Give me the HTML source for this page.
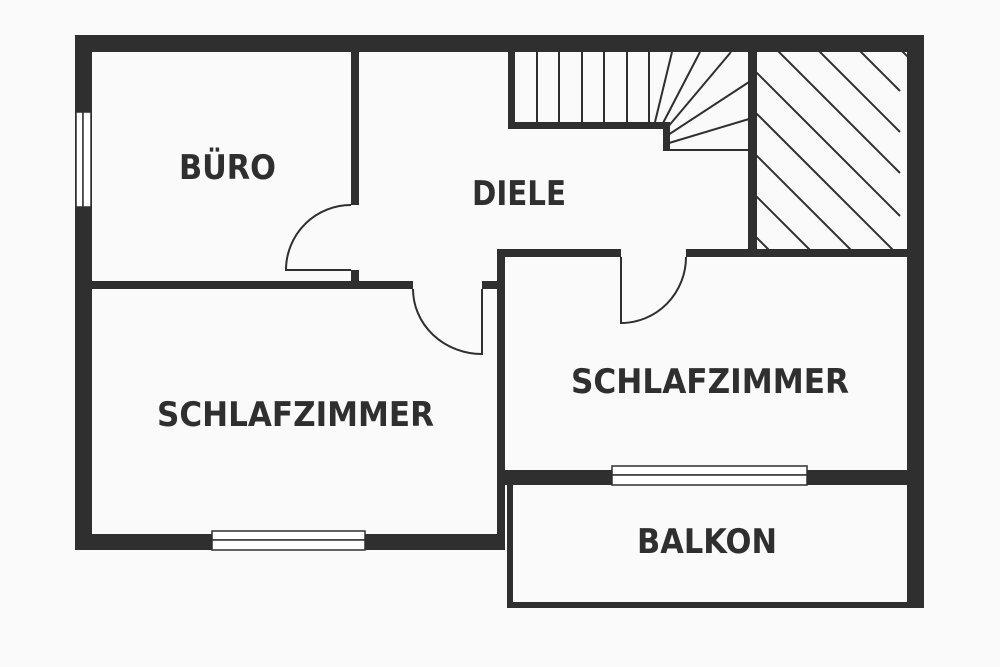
<!DOCTYPE html>
<html><head><meta charset="utf-8"><style>
html,body{margin:0;padding:0;background:#fafafa;}
svg{display:block;}
text{font-family:"DejaVu Sans","Liberation Sans",sans-serif;font-weight:bold;fill:#2f2f2f;}
</style></head><body>
<svg width="1000" height="667" viewBox="0 0 1000 667" xmlns="http://www.w3.org/2000/svg">
<rect width="1000" height="667" fill="#fafafa"/>
<defs><clipPath id="hc"><rect x="757" y="52" width="150" height="197"/></clipPath></defs>
<g fill="#2f2f2f">
<!-- outer walls -->
<rect x="75" y="35" width="849" height="17"/>
<rect x="75" y="35" width="17" height="515"/>
<rect x="907" y="35" width="17" height="573"/>
<rect x="75" y="534" width="430" height="16"/>
<!-- büro partition -->
<rect x="351" y="52" width="8" height="153"/>
<rect x="351" y="270" width="8" height="12"/>
<rect x="92" y="281" width="321" height="8"/>
<rect x="482" y="281" width="23" height="8"/>
<!-- stair walls -->
<rect x="508" y="52" width="7" height="77"/>
<path d="M508 122 H664 Q670 122 670 128 V151 H663 V129 H508 Z"/>
<rect x="663" y="122" width="7" height="29"/>
<!-- shaft wall -->
<rect x="748" y="52" width="9" height="205"/>
<rect x="497" y="249" width="124" height="8"/>
<rect x="686" y="249" width="225" height="8"/>
<rect x="497" y="249" width="8" height="301"/>
<!-- right bedroom bottom wall -->
<rect x="505" y="470" width="410" height="15"/>
<!-- balkon -->
<rect x="507" y="485" width="6" height="123"/>
<rect x="507" y="602" width="417" height="6"/>
</g>
<!-- windows -->
<g fill="#fff" stroke="#2f2f2f" stroke-width="1.5">
<rect x="76" y="112" width="7" height="95"/>
<rect x="83" y="112" width="8" height="95"/>
<rect x="212" y="531" width="153" height="9"/>
<rect x="212" y="540" width="153" height="10"/>
<rect x="612" y="466" width="195" height="9"/>
<rect x="612" y="475" width="195" height="10"/>
</g>
<!-- stairs -->
<g stroke="#2f2f2f" stroke-width="2" fill="none">
<line x1="537" y1="52" x2="537" y2="122"/>
<line x1="559" y1="52" x2="559" y2="122"/>
<line x1="582" y1="52" x2="582" y2="122"/>
<line x1="604" y1="52" x2="604" y2="122"/>
<line x1="627" y1="52" x2="627" y2="122"/>
<line x1="649" y1="52" x2="649" y2="122"/>
<line x1="672" y1="52" x2="655" y2="122"/>
<line x1="700" y1="52" x2="662" y2="125"/>
<line x1="731" y1="52" x2="667" y2="128"/>
<line x1="749" y1="82" x2="668" y2="135"/>
<line x1="749" y1="119" x2="669" y2="143"/>
<line x1="670" y1="150" x2="749" y2="150"/>
</g>
<!-- hatch -->
<g clip-path="url(#hc)" stroke="#2f2f2f" stroke-width="2">
<line x1="700" y1="181" x2="900" y2="381"/>
<line x1="700" y1="140" x2="900" y2="340"/>
<line x1="700" y1="99" x2="900" y2="299"/>
<line x1="700" y1="57" x2="900" y2="257"/>
<line x1="700" y1="16" x2="900" y2="216"/>
<line x1="700" y1="-27" x2="900" y2="173"/>
<line x1="700" y1="-68" x2="900" y2="132"/>
<line x1="700" y1="-109" x2="900" y2="91"/>
<line x1="700" y1="-151" x2="950" y2="99"/>
</g>
<!-- doors -->
<g stroke="#2f2f2f" stroke-width="2" fill="none">
<path d="M351 205 A65 65 0 0 0 286 270 H351"/>
<path d="M413 289 A69 65 0 0 0 482 354 V289"/>
<path d="M686 257 A65 66 0 0 1 621 323 V257"/>
</g>
<!-- labels -->
<text x="179" y="179" font-size="34" textLength="97" lengthAdjust="spacingAndGlyphs">BÜRO</text>
<text x="472" y="205" font-size="34" textLength="94" lengthAdjust="spacingAndGlyphs">DIELE</text>
<text x="157" y="426" font-size="34" textLength="277" lengthAdjust="spacingAndGlyphs">SCHLAFZIMMER</text>
<text x="571" y="393" font-size="34" textLength="278" lengthAdjust="spacingAndGlyphs">SCHLAFZIMMER</text>
<text x="637" y="553" font-size="34" textLength="140" lengthAdjust="spacingAndGlyphs">BALKON</text>
</svg>
</body></html>
